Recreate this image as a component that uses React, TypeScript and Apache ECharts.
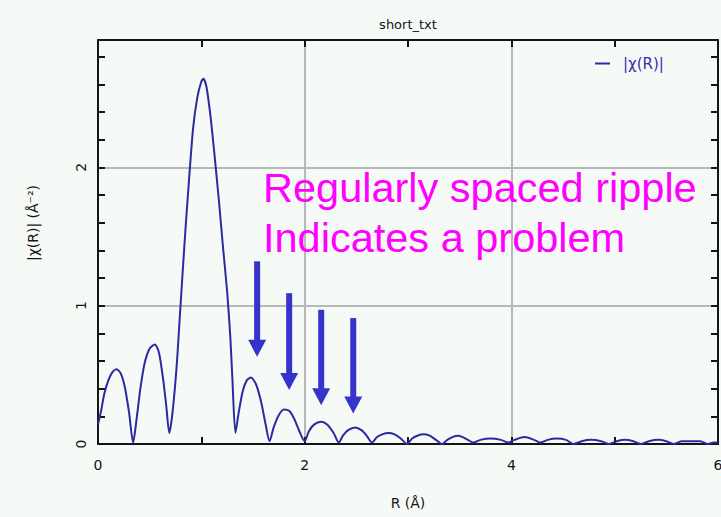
import React, { useEffect, useRef } from 'react';
import * as echarts from 'echarts';

const R_VALUES = [
  0.00, 0.03, 0.06, 0.10, 0.14, 0.18, 0.22, 0.26, 0.30, 0.34,
  0.37, 0.41, 0.45, 0.50, 0.55, 0.59, 0.63, 0.66, 0.69,
  0.72, 0.76, 0.79, 0.82, 0.85, 0.88, 0.92, 0.96, 1.00, 1.02, 1.05, 1.09, 1.13, 1.17, 1.21, 1.25, 1.28, 1.30, 1.33,
  1.36, 1.40, 1.44, 1.48, 1.53, 1.58, 1.62, 1.66,
  1.70, 1.75, 1.80, 1.85, 1.90, 1.95, 2.00,
  2.04, 2.09, 2.16, 2.22, 2.28, 2.33,
  2.37, 2.42, 2.49, 2.55, 2.60, 2.65,
  2.70, 2.75, 2.81, 2.87, 2.93, 2.99,
  3.04, 3.09, 3.15, 3.21, 3.27, 3.33,
  3.38, 3.43, 3.48, 3.53, 3.58, 3.63,
  3.70, 3.80, 3.90, 3.97,
  4.03, 4.13, 4.22, 4.28,
  4.35, 4.44, 4.53, 4.60,
  4.68, 4.77, 4.87, 4.94, 5.02, 5.10, 5.18, 5.25, 5.33, 5.42, 5.50, 5.57, 5.65, 5.74, 5.83, 5.90, 5.96, 6.00,
];
const CHI_VALUES = [
  0.14, 0.24, 0.36, 0.46, 0.52, 0.54, 0.51, 0.41, 0.23, 0.01,
  0.16, 0.40, 0.58, 0.69, 0.72, 0.66, 0.47, 0.28, 0.08,
  0.22, 0.55, 0.90, 1.25, 1.59, 1.90, 2.28, 2.50, 2.62, 2.64, 2.58, 2.36, 2.07, 1.76, 1.42, 1.10, 0.78, 0.48, 0.08,
  0.22, 0.38, 0.46, 0.48, 0.43, 0.30, 0.15, 0.02,
  0.12, 0.21, 0.25, 0.24, 0.18, 0.09, 0.02,
  0.09, 0.14, 0.16, 0.14, 0.08, 0.01,
  0.06, 0.10, 0.12, 0.10, 0.06, 0.01,
  0.05, 0.07, 0.08, 0.07, 0.04, 0.00,
  0.04, 0.06, 0.07, 0.06, 0.03, 0.00,
  0.03, 0.05, 0.06, 0.05, 0.03, 0.01,
  0.03, 0.04, 0.03, 0.01,
  0.03, 0.05, 0.03, 0.01,
  0.03, 0.04, 0.03, 0.00,
  0.02, 0.03, 0.02, 0.00, 0.02, 0.03, 0.02, 0.00, 0.02, 0.03, 0.02, 0.00, 0.02, 0.02, 0.02, 0.00, 0.01, 0.01,
];

const X_LABELS = [0, 2, 4, 6];
const Y_LABELS = [0, 1, 2];
const X_MIN = 0;
const X_MAX = 6;
const Y_MIN = 0;
const Y_MAX = 2.92;

const ARROW_R = [1.54, 1.85, 2.16, 2.47];
const ARROW_TOP = [1.32, 1.09, 0.97, 0.91];
const ARROW_TIP = [0.63, 0.39, 0.28, 0.22];

const NOTE_LINES = ['Regularly spaced ripple', 'Indicates a problem'];
const TITLE = 'short_txt';
const SERIES_NAME = '|χ(R)|';
const X_NAME = 'R (Å)';
const Y_NAME = '|χ(R)| (Å⁻²)';

const T = 'rgba(0,0,0,0)';
const GRID_C = '#b8b8b8';
const AXIS_C = '#151515';
const LINE_C = '#2a2aa2';
const ARROW_C = '#3434cc';
const NOTE_C = '#ff00ff';
const BG = '#f6faf7';

export default function App() {
  const ref = useRef<HTMLDivElement>(null);
  useEffect(() => {
    document.body.style.margin = '0';
    document.body.style.background = BG;
    const chart = echarts.init(ref.current!, undefined, { renderer: 'svg' });
    const data = R_VALUES.map((r, i) => [r, CHI_VALUES[i]]);
    const isLabel = (arr: number[], v: number) => arr.some((a) => Math.abs(a - v) < 1e-6);
    const xSplitColors = [0, 1, 2, 3, 4, 5, 6].map((v) => (v > X_MIN && v < X_MAX && isLabel(X_LABELS, v) ? GRID_C : T));
    const ySplitColors = [GRID_C, T, T, T, T];
    const labelFont = { color: AXIS_C, fontSize: 14, fontFamily: 'DejaVu Sans' };
    const mkLine = () => ({ show: true, onZero: false, lineStyle: { color: AXIS_C, width: 2 } });
    const mkTick = (len: number) => ({ show: true, inside: true, length: len, lineStyle: { color: AXIS_C, width: 2 } });
    const option: any = {
      animation: false,
      backgroundColor: BG,
      grid: { left: 98, top: 40, width: 620, height: 404, containLabel: false, outerBoundsMode: 'none' },
      legend: {
        left: 590,
        top: 51,
        icon: 'rect',
        itemWidth: 15,
        itemHeight: 2,
        itemGap: 4,
        textStyle: { color: '#3030b0', fontSize: 15, fontFamily: 'DejaVu Sans', padding: [0, 0, 0, 8] },
        data: [SERIES_NAME],
      },
      xAxis: [
        {
          type: 'value', min: X_MIN, max: X_MAX, interval: 1, position: 'bottom',
          axisLine: mkLine(),
          axisTick: mkTick(7),
          axisLabel: { ...labelFont, margin: 14, formatter: (v: number) => (isLabel(X_LABELS, v) ? String(Math.round(v)) : '') },
          splitLine: { show: true, showMinLine: true, showMaxLine: true, lineStyle: { color: xSplitColors, width: 2 } },
          name: X_NAME, nameLocation: 'middle', nameGap: 52,
          nameTextStyle: { ...labelFont },
        },
        {
          type: 'value', min: X_MIN, max: X_MAX, interval: 1, position: 'top',
          axisLine: mkLine(),
          axisTick: mkTick(7),
          axisLabel: { show: false },
          splitLine: { show: false },
        },
      ],
      yAxis: [
        {
          type: 'value', min: Y_MIN, max: Y_MAX, interval: 0.2, position: 'left',
          axisLine: mkLine(),
          axisTick: mkTick(7),
          axisLabel: { ...labelFont, rotate: 90, margin: 10, formatter: (v: number) => (isLabel(Y_LABELS, v) ? String(Math.round(v)) : '') },
          splitLine: { show: true, showMinLine: true, showMaxLine: true, lineStyle: { color: ySplitColors, width: 2 } },
        },
        {
          type: 'value', min: Y_MIN, max: Y_MAX, interval: 0.2, position: 'right',
          axisLine: mkLine(),
          axisTick: mkTick(7),
          axisLabel: { show: false },
          splitLine: { show: false },
        },
      ],
      series: [
        {
          name: SERIES_NAME,
          type: 'line',
          xAxisIndex: 0,
          yAxisIndex: 0,
          data,
          showSymbol: false,
          smooth: 0.25,
          lineStyle: { color: LINE_C, width: 2 },
          itemStyle: { color: LINE_C },
          z: 3,
        },
      ],
    };
    chart.setOption(option);

    const graphics: any[] = [];
    graphics.push({
      type: 'text', x: 408, y: 24,
      style: { text: TITLE, fontSize: 13, fontFamily: 'DejaVu Sans', fill: AXIS_C, align: 'center', verticalAlign: 'middle' },
    });
    graphics.push({
      type: 'text', x: 33, y: 223, rotation: Math.PI / 2,
      style: { text: Y_NAME, fontSize: 14, fontFamily: 'DejaVu Sans', fill: AXIS_C, align: 'center', verticalAlign: 'middle' },
    });
    graphics.push({
      type: 'text', x: 263, y: 162,
      style: { text: NOTE_LINES.join('\n'), fontSize: 41.5, fontFamily: 'Liberation Sans', fill: NOTE_C, lineHeight: 50, align: 'left', verticalAlign: 'top' },
    });
    ARROW_R.forEach((r, i) => {
      const top = chart.convertToPixel({ gridIndex: 0 }, [r, ARROW_TOP[i]]) as number[];
      const tip = chart.convertToPixel({ gridIndex: 0 }, [r, ARROW_TIP[i]]) as number[];
      const headH = 17;
      const headW = 18;
      const shaftW = 6;
      graphics.push({
        type: 'rect',
        shape: { x: top[0] - shaftW / 2, y: top[1], width: shaftW, height: tip[1] - headH - top[1] + 1 },
        style: { fill: ARROW_C },
      });
      graphics.push({
        type: 'polygon',
        shape: { points: [[tip[0] - headW / 2, tip[1] - headH], [tip[0] + headW / 2, tip[1] - headH], [tip[0], tip[1]]] },
        style: { fill: ARROW_C },
      });
    });
    chart.setOption({ graphic: graphics });

    return () => chart.dispose();
  }, []);
  return <div ref={ref} style={{ position: 'fixed', left: 0, top: 0, width: 721, height: 517 }} />;
}
